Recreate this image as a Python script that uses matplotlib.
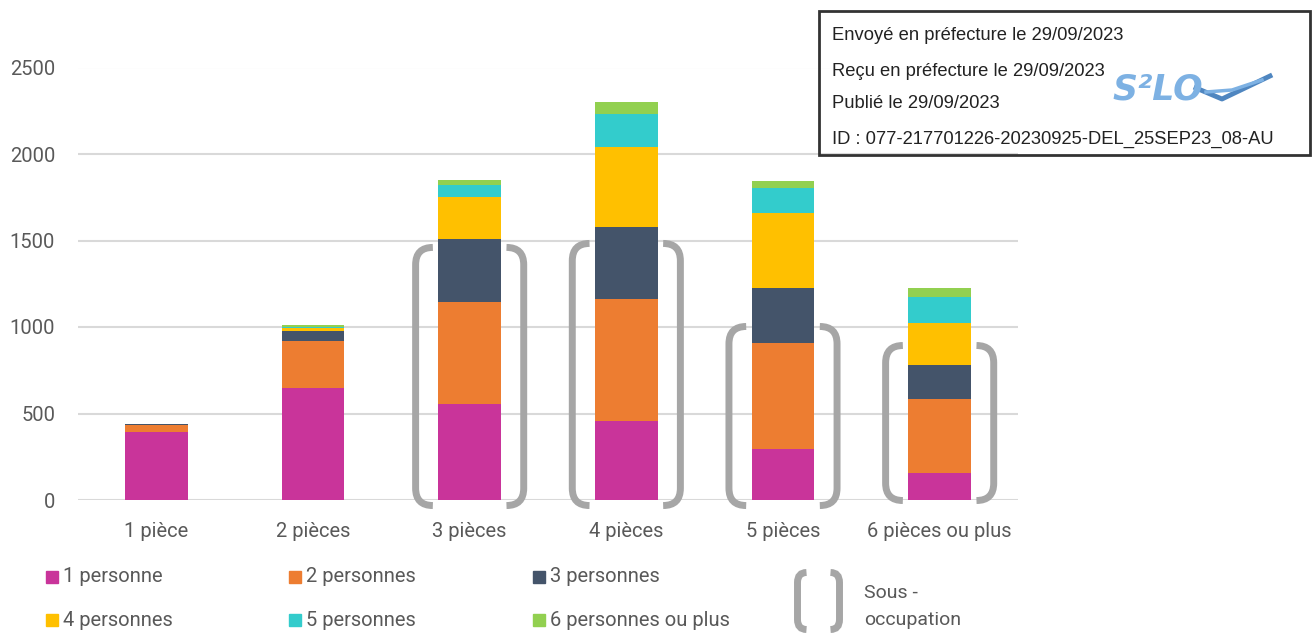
import numpy as np
import matplotlib
matplotlib.use("Agg")
import matplotlib.pyplot as plt
from matplotlib.path import Path
from matplotlib.patches import PathPatch, Rectangle

# --- data ---
categories = ["1 pièce", "2 pièces", "3 pièces", "4 pièces", "5 pièces", "6 pièces ou plus"]
series_names = ["1 personne", "2 personnes", "3 personnes",
                "4 personnes", "5 personnes", "6 personnes ou plus"]
pers1 = [391, 646, 557, 458, 295, 158]
pers2 = [43, 273, 586, 706, 612, 426]
pers3 = [3, 60, 366, 416, 318, 196]
pers4 = [0, 17, 242, 459, 434, 245]
pers5 = [0, 4, 72, 190, 146, 148]
pers6 = [0, 10, 27, 70, 39, 51]
# brackets marking "sous-occupation" (top, bottom in data units)
sous_occ_idx = [2, 3, 4, 5]
sous_occ_top = [1460, 1483, 1003, 893]
sous_occ_bottom = [-32, -32, -32, -3]

colors = ["#C9349A", "#ED7D31", "#44546A", "#FFC000", "#33CCCC", "#92D050"]
bracket_color = "#A6A6A6"
text_color = "#595959"

plt.rcParams["font.family"] = ["Roboto", "DejaVu Sans"]

W, H = 1315, 635
fig = plt.figure(figsize=(W / 100, H / 100), dpi=100)
ax = fig.add_axes([78 / W, 1 - 500 / H, (1018 - 78) / W, (500 - 67.5) / H])

x = np.arange(len(categories))
bottom = np.zeros(len(categories))
for vals, col in zip([pers1, pers2, pers3, pers4, pers5, pers6], colors):
    ax.bar(x, vals, width=0.4, bottom=bottom, color=col, zorder=3)
    bottom += np.array(vals)

ax.set_xlim(-0.5, 5.5)
ax.set_ylim(0, 2500)
ax.set_yticks([0, 500, 1000, 1500, 2000, 2500])
ax.set_xticks(x)
ax.set_xticklabels(categories)
ax.grid(axis="y", color="#D9D9D9", lw=1.5, zorder=0)
for s in ax.spines.values():
    s.set_visible(False)
ax.tick_params(axis="both", length=0, labelsize=14.5, labelcolor=text_color)
ax.tick_params(axis="y", pad=16.5)
ax.tick_params(axis="x", pad=16)


def bracket_path(x0, xcap, top, bot, ry):
    verts = [(xcap, top), (x0, top), (x0, top - ry), (x0, bot + ry),
             (x0, bot), (xcap, bot)]
    codes = [Path.MOVETO, Path.CURVE3, Path.CURVE3, Path.LINETO,
             Path.CURVE3, Path.CURVE3]
    return Path(verts, codes)


for i, top, bot in zip(sous_occ_idx, sous_occ_top, sous_occ_bottom):
    for side in (-1, 1):
        p = bracket_path(i + side * 0.345, i + side * 0.235, top, bot, 100)
        ax.add_patch(PathPatch(p, fill=False, lw=5, ec=bracket_color,
                               capstyle="butt", clip_on=False, zorder=4))

# --- legend drawn by hand in pixel positions ---
col_x = [46, 289, 533]
row_y = [577, 620]
for k, (name, col) in enumerate(zip(series_names, colors)):
    r, c = divmod(k, 3)
    fig.patches.append(Rectangle((col_x[c] / W, 1 - (row_y[r] + 6) / H), 12 / W, 12 / H,
                                 transform=fig.transFigure, color=col))
    fig.text((col_x[c] + 17) / W, 1 - row_y[r] / H, name, fontsize=14.5,
             color=text_color, va="center", ha="left")

for side in (-1, 1):
    x0 = 818.5 + side * 21
    xcap = 818.5 + side * 12
    p = bracket_path(x0 / W, xcap / W, 1 - 572.5 / H, 1 - 629.5 / H, 10 / H)
    fig.patches.append(PathPatch(p, fill=False, lw=5, ec=bracket_color,
                                 capstyle="butt", transform=fig.transFigure))
fig.text(864 / W, 1 - 593 / H, "Sous -", fontsize=14, color=text_color,
         va="center", ha="left")
fig.text(864 / W, 1 - 620 / H, "occupation", fontsize=14, color=text_color,
         va="center", ha="left")

# --- préfecture stamp ---
fig.patches.append(Rectangle((819 / W, 1 - 155 / H), (1310 - 819) / W, (155 - 11) / H,
                             transform=fig.transFigure, fill=False, ec="#333333",
                             lw=2, zorder=5))
stamp_lines = ["Envoyé en préfecture le 29/09/2023",
               "Reçu en préfecture le 29/09/2023",
               "Publié le 29/09/2023",
               "ID : 077-217701226-20230925-DEL_25SEP23_08-AU"]
for line, yy in zip(stamp_lines, [36, 71, 104, 139]):
    fig.text(832 / W, 1 - yy / H, line, fontsize=13.2, family="Liberation Sans",
             color="#222222", va="center", ha="left")
fig.text(1112 / W, 1 - 90 / H, "S²LO", fontsize=25, family="DejaVu Sans",
         fontweight="bold", fontstyle="italic", color="#7DB1E3",
         va="center", ha="left")
fig.lines.append(plt.Line2D([1196 / W, 1222 / W, 1270 / W],
                            [1 - 88 / H, 1 - 99 / H, 1 - 76 / H],
                            transform=fig.transFigure, color="#4F86C0", lw=3.5))
fig.lines.append(plt.Line2D([1206 / W, 1232 / W, 1262 / W],
                            [1 - 92 / H, 1 - 90 / H, 1 - 80 / H],
                            transform=fig.transFigure, color="#7DB1E3", lw=2.5))

fig.savefig("out.png", dpi=100, facecolor="white")
